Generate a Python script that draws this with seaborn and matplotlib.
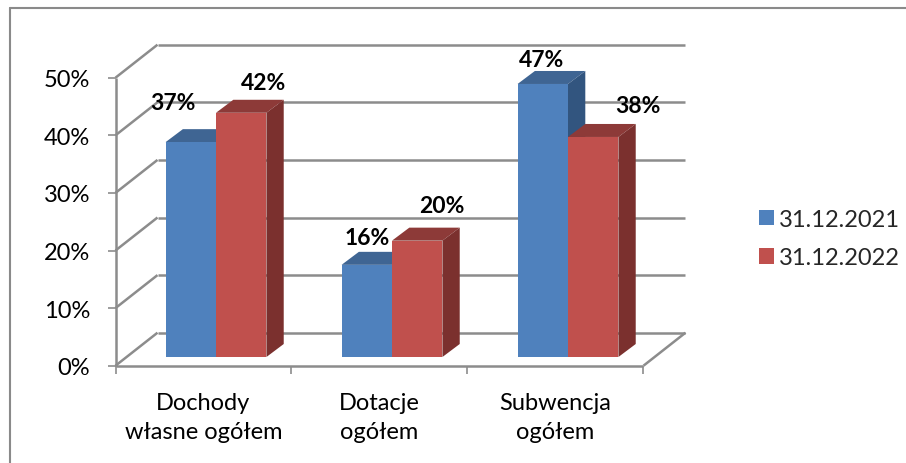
import matplotlib
matplotlib.use('Agg')
import matplotlib.pyplot as plt
from matplotlib.patches import Polygon
from matplotlib.lines import Line2D
from matplotlib.transforms import ScaledTranslation
import pandas as pd
import seaborn as sns

categories = ['Dochody\nwłasne ogółem', 'Dotacje\nogółem', 'Subwencja\nogółem']
series_names = ['31.12.2021', '31.12.2022']
values_2021 = [37.3, 16.0, 47.4]
values_2022 = [42.4, 20.2, 38.2]
y_ticks = [0, 10, 20, 30, 40, 50]

W, H = 906, 464
GRID = '#8c8c8c'
FRONT = {'31.12.2021': '#4F81BD', '31.12.2022': '#C0504D'}
TOP = ['#3F6593', '#8D3A38']
SIDE = ['#32557F', '#7B302E']

sns.set_theme(style='white')
plt.rcParams['font.family'] = ['Lato', 'DejaVu Sans']

df = pd.DataFrame({
    'kategoria': categories * 2,
    'seria': [series_names[0]] * 3 + [series_names[1]] * 3,
    'udzial': values_2021 + values_2022,
})

fig = plt.figure(figsize=(W / 100, H / 100), dpi=100)
# plane of the bar fronts: x 128-656 px, 0% at y=358 px, 50% at y=70 px
ax = fig.add_axes([128 / W, 1 - 358 / H, 528 / W, 288 / H])
ax.patch.set_alpha(0)

sns.barplot(data=df, x='kategoria', y='udzial', hue='seria', palette=FRONT,
            width=0.573, gap=0, saturation=1, linewidth=0, ax=ax, zorder=3)
ax.set_xlim(-0.5, 2.5)
ax.set_ylim(0, 50)
ax.set_xlabel('')
ax.set_ylabel('')
sns.despine(ax=ax, left=True, bottom=True)

# px to data units
ux = 3 / 528
uy = 50 / 288


def pt(x, v, dx=0, dy=0):
    return (x + dx * ux, v + dy * uy)


def wall_line(a, b, lw=1.8):
    ax.plot([a[0], b[0]], [a[1], b[1]], color=GRID, lw=lw, clip_on=False,
            zorder=1, solid_capstyle='butt')


# front plane sits 12.5 px left and 8.7 px below the bars, back wall 42 px right and 33 px up of it
FX, FY = -12.5, -8.7
BX, BY = FX + 42, FY + 33
for v in y_ticks:
    wall_line(pt(-0.5, v, FX, FY), pt(-0.5, v, BX, BY))
    wall_line(pt(-0.5, v, BX, BY), pt(2.5, v, BX, BY))
    wall_line(pt(-0.5, v, FX - 8, FY), pt(-0.5, v, FX, FY), lw=1.2)
wall_line(pt(-0.5, 0, FX, FY), pt(-0.5, 50, FX, FY))
wall_line(pt(-0.5, 0, FX, FY), pt(2.5, 0, FX, FY))
wall_line(pt(2.5, 0, FX, FY), pt(2.5, 0, BX, BY))
for i in range(4):
    wall_line(pt(i - 0.5, 0, FX, FY - 8), pt(i - 0.5, 0, FX, FY), lw=1.2)

# depth of the bars
DX, DY = 17.3, 13
for s, container in enumerate(ax.containers):
    for bar in container:
        x0, x1 = bar.get_x(), bar.get_x() + bar.get_width()
        v = bar.get_height()
        ax.add_patch(Polygon([pt(x0, v), pt(x1, v), pt(x1, v, DX, DY), pt(x0, v, DX, DY)],
                             closed=True, fc=TOP[s], ec='none', zorder=2 + s * 0.5, clip_on=False))
        ax.add_patch(Polygon([pt(x1, 0), pt(x1, v), pt(x1, v, DX, DY), pt(x1, 0, DX, DY)],
                             closed=True, fc=SIDE[s], ec='none', zorder=2 + s * 0.5, clip_on=False))

# data labels were moved by hand in the original (px from the top of the bar)
label_offsets = [[(-18, 40), (22, 30)], [(0, 27), (25, 35)], [(-1, 24), (45, 31)]]
for s, container in enumerate(ax.containers):
    for c, bar in enumerate(container):
        off = label_offsets[c][s]
        ax.annotate(f'{bar.get_height():.0f}%',
                    (bar.get_x() + bar.get_width() / 2, bar.get_height()),
                    xytext=(off[0] * 0.72, off[1] * 0.72), textcoords='offset points',
                    ha='center', va='center', fontsize=16.5, fontweight='bold',
                    color='black', zorder=5, annotation_clip=False)

# tick labels follow the front plane
shift = ScaledTranslation(FX / 100, FY / 100, fig.dpi_scale_trans)
ax.set_yticks(y_ticks, [f'{v}%' for v in y_ticks])
ax.tick_params(axis='y', length=0, pad=18.4, labelsize=17, labelcolor='black')
ax.tick_params(axis='x', length=0, pad=18.6, labelsize=17, labelcolor='black')
for lab in ax.get_xticklabels() + ax.get_yticklabels():
    lab.set_transform(lab.get_transform() + shift)
for lab in ax.get_xticklabels():
    lab.set_linespacing(1.48)

sns.move_legend(ax, loc='center left', bbox_to_anchor=(738 / W, 1 - 239.5 / H),
                bbox_transform=fig.transFigure, title=None, frameon=False,
                fontsize=17, handlelength=0.62, handleheight=0.62,
                handletextpad=0.22, labelspacing=0.75)

# chart area border, only top and left are inside the picture
for xs, ys in [((9.5, 906), (9, 9)), ((9.5, 9.5), (9, 464))]:
    fig.add_artist(Line2D([x / W for x in xs], [1 - y / H for y in ys],
                          transform=fig.transFigure, color='#8a8a8a', lw=1.5))

plt.savefig('out.png', dpi=100)
